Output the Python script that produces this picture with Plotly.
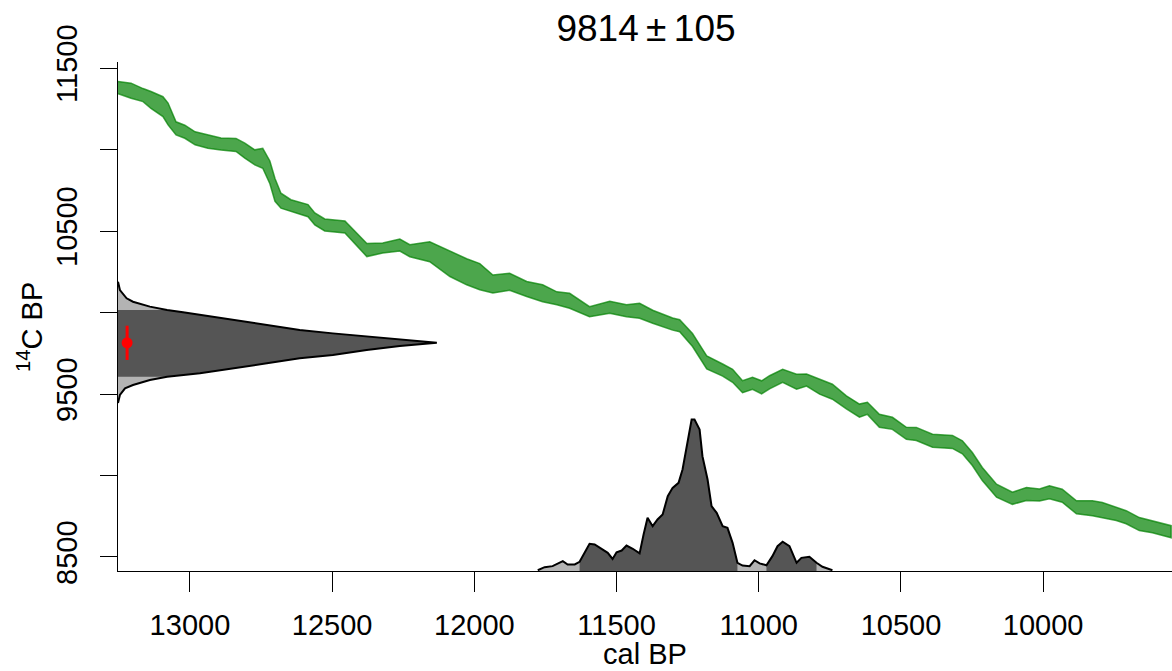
import plotly.graph_objects as go

# ---------------- data ----------------
title_mean = 9814
title_error = 105

# calibration curve: cal BP, 14C BP (centre), half-width of band (14C yr)
curve_cal = [13253, 13207, 13165, 13137, 13095, 13077, 13049, 13018, 12982, 12937,
             12891, 12838, 12807, 12772, 12744, 12719, 12701, 12680, 12645, 12585,
             12561, 12526, 12455, 12378, 12322, 12262, 12227, 12157, 12086, 12027,
             11981, 11935, 11876, 11816, 11760, 11710, 11665, 11595, 11524, 11465,
             11419, 11373, 11303, 11278, 11233, 11183, 11127, 11092, 11057, 11022,
             10990, 10962, 10916, 10867, 10832, 10786, 10741, 10692, 10646, 10618,
             10576, 10530, 10481, 10446, 10389, 10319, 10284, 10249, 10214, 10164,
             10108, 10059, 10013, 9978, 9933, 9883, 9827, 9792, 9743, 9708,
             9662, 9616, 9550]
curve_c14 = [11380, 11361, 11334, 11304, 11263, 11218, 11130, 11109, 11069, 11048,
             11034, 11028, 10993, 10952, 10946, 10860, 10752, 10686, 10655, 10625,
             10574, 10537, 10525, 10383, 10396, 10414, 10379, 10373, 10298, 10250,
             10220, 10175, 10189, 10144, 10118, 10087, 10072, 10005, 10032, 10011,
             10011, 9974, 9929, 9919, 9831, 9694, 9647, 9612, 9545, 9566,
             9541, 9572, 9612, 9575, 9586, 9545, 9514, 9449, 9398, 9412,
             9336, 9320, 9259, 9255, 9213, 9206, 9173, 9101, 9009, 8907,
             8860, 8886, 8880, 8897, 8876, 8805, 8799, 8788, 8764, 8744,
             8702, 8686, 8655]
curve_err = [37, 46, 40, 52, 61, 67, 40, 40, 40, 40,
             37, 40, 46, 46, 61, 70, 70, 46, 37, 37,
             37, 37, 37, 40, 31, 37, 37, 61, 77, 80,
             80, 55, 52, 46, 52, 40, 46, 31, 37, 37,
             46, 40, 37, 37, 40, 40, 37, 40, 37, 37,
             40, 40, 40, 46, 37, 46, 46, 40, 40, 37,
             40, 37, 37, 40, 40, 40, 40, 40, 40, 40,
             37, 40, 37, 40, 40, 40, 46, 46, 40, 40,
             40, 37, 37]

# measured date distribution (14C BP, relative density)
date_c14 = [10189, 10138, 10087, 10066, 10036, 10015, 10001, 9985, 9954, 9923,
            9893, 9872, 9852, 9836, 9815, 9794, 9770, 9739, 9719, 9688,
            9658, 9627, 9606, 9586, 9555, 9535, 9494, 9445]
date_dens = [0.0, 0.006, 0.027, 0.047, 0.10, 0.154, 0.204, 0.257, 0.36, 0.467,
             0.57, 0.674, 0.78, 0.884, 1.0, 0.884, 0.78, 0.674, 0.57, 0.467,
             0.36, 0.257, 0.154, 0.10, 0.047, 0.022, 0.006, 0.0]
date_range = [9606, 10015]

# calibrated distribution (cal BP, relative probability)
cal_bp = [11777, 11753, 11725, 11700, 11689, 11672, 11647, 11630, 11612, 11595,
          11577, 11552, 11531, 11514, 11500, 11482, 11465, 11443, 11419, 11405,
          11391, 11373, 11356, 11338, 11320, 11303, 11282, 11268, 11254, 11236,
          11226, 11208, 11198, 11180, 11166, 11148, 11127, 11110, 11092, 11075,
          11057, 11032, 11015, 10997, 10973, 10952, 10934, 10916, 10892, 10867,
          10850, 10822, 10797, 10776, 10741]
cal_prob = [0.005, 0.025, 0.032, 0.058, 0.065, 0.043, 0.043, 0.061, 0.12, 0.18,
            0.175, 0.142, 0.12, 0.08, 0.124, 0.135, 0.168, 0.147, 0.116, 0.241,
            0.351, 0.296, 0.34, 0.373, 0.494, 0.549, 0.582, 0.67, 0.824, 1.0,
            1.0, 0.934, 0.758, 0.604, 0.428, 0.384, 0.296, 0.285, 0.186, 0.054,
            0.036, 0.032, 0.071, 0.05, 0.038, 0.098, 0.164, 0.193, 0.164, 0.054,
            0.087, 0.094, 0.054, 0.028, 0.005]
hpd_ranges = [[11075, 11630], [10797, 10973]]

x_ticks = [13000, 12500, 12000, 11500, 11000, 10500, 10000]
x_ticktext = ["13000", "12500", "12000", "11500", "11000", "10500", "10000"]
y_label_ticks = [8500, 9500, 10500, 11500]
y_ticktext = ["8500", "9500", "10500", "11500"]
y_all_ticks = [8500, 9000, 9500, 10000, 10500, 11000, 11500]

# ---------------- styling / scale constants ----------------
X_RANGE = [13253, 9547]
Y_RANGE = [8414, 11537]
DATE_SCALE = 1121    # cal-yr width of the date density peak
CAL_SCALE = 929      # 14C-yr height of the calibrated peak
DARK = "#555555"
LIGHT = "#b3b3b3"
FONT = "Liberation Sans, Arial, sans-serif"
FS = 29
L, R, T, B = 118, 0, 62, 100
W, H = 1172 - L - R, 671 - T - B

fig = go.Figure()

# calibration curve band
up = [c + e for c, e in zip(curve_c14, curve_err)]
lo = [c - e for c, e in zip(curve_c14, curve_err)]
fig.add_trace(go.Scatter(
    x=curve_cal + curve_cal[::-1], y=up + lo[::-1], mode="lines",
    fill="toself", fillcolor="rgba(0,128,0,0.7)",
    line=dict(color="rgba(0,128,0,0.7)", width=1.5), hoverinfo="skip"))

x0 = X_RANGE[0]
# date distribution (full, light)
dx = [x0 - d * DATE_SCALE for d in date_dens]
fig.add_trace(go.Scatter(x=[x0] + dx + [x0], y=[date_c14[0]] + date_c14 + [date_c14[-1]],
                         mode="lines", fill="toself", fillcolor=LIGHT,
                         line=dict(width=0), hoverinfo="skip"))
# dark part inside range
sel = [(c, x) for c, x in zip(date_c14, dx) if date_range[0] <= c <= date_range[1]]
fig.add_trace(go.Scatter(x=[x0] + [s[1] for s in sel] + [x0],
                         y=[sel[0][0]] + [s[0] for s in sel] + [sel[-1][0]],
                         mode="lines", fill="toself", fillcolor=DARK,
                         line=dict(width=0), hoverinfo="skip"))
fig.add_trace(go.Scatter(x=dx, y=date_c14, mode="lines",
                         line=dict(color="black", width=2), hoverinfo="skip"))

# calibrated distribution
y0 = Y_RANGE[0]
cy = [y0 + p * CAL_SCALE for p in cal_prob]
fig.add_trace(go.Scatter(x=[cal_bp[0]] + cal_bp + [cal_bp[-1]], y=[y0] + cy + [y0],
                         mode="lines", fill="toself", fillcolor=LIGHT,
                         line=dict(width=0), hoverinfo="skip"))
for lo_r, hi_r in hpd_ranges:
    s = [(c, v) for c, v in zip(cal_bp, cy) if lo_r <= c <= hi_r]
    fig.add_trace(go.Scatter(x=[s[0][0]] + [q[0] for q in s] + [s[-1][0]],
                             y=[y0] + [q[1] for q in s] + [y0],
                             mode="lines", fill="toself", fillcolor=DARK,
                             line=dict(width=0), hoverinfo="skip"))
fig.add_trace(go.Scatter(x=cal_bp, y=cy, mode="lines",
                         line=dict(color="black", width=2), hoverinfo="skip"))

# the date itself (red dot with 1-sigma bar)
fig.add_trace(go.Scatter(x=[13221], y=[title_mean], mode="markers",
                         marker=dict(color="red", size=11),
                         error_y=dict(type="constant", value=title_error, width=0,
                                      thickness=3, color="red"),
                         hoverinfo="skip"))

fig.update_layout(
    width=1172, height=671, showlegend=False,
    margin=dict(l=L, r=R, t=T, b=B, autoexpand=False),
    paper_bgcolor="white", plot_bgcolor="white",
    font=dict(family=FONT, color="black"),
    title=dict(text="9814\u2009\u00b1\u2009105", x=646 / 1172, xanchor="center",
               y=1 - 28 / 671, yanchor="middle", yref="container",
               font=dict(size=37, family=FONT, color="black")),
    xaxis=dict(range=X_RANGE, tickvals=x_ticks, ticktext=x_ticktext, ticks="outside",
               ticklen=20, tickcolor="black", tickwidth=1, showline=True,
               linecolor="black", linewidth=1, showgrid=False, zeroline=False,
               automargin=False, tickfont=dict(size=FS, family=FONT),
               ticklabelstandoff=8),
    yaxis=dict(range=Y_RANGE, tickvals=y_label_ticks, ticktext=y_ticktext,
               ticks="outside", ticklen=17, tickcolor="black", tickwidth=1,
               showline=True, linecolor="black", linewidth=1, showgrid=False,
               zeroline=False, automargin=False, tickangle=-90,
               tickfont=dict(size=FS, family=FONT), ticklabelstandoff=11,
               minor=dict(tickvals=y_all_ticks, ticks="outside", ticklen=17,
                          tickcolor="black", tickwidth=1, showgrid=False)),
    annotations=[
        dict(text="cal BP", x=(645 - L) / W, xref="paper", y=(T + H - 654) / H,
             yref="paper", xanchor="center", yanchor="middle", showarrow=False,
             font=dict(size=FS, family=FONT)),
        dict(text="<sup>14</sup>C BP", x=(30 - L) / W, xref="paper",
             y=(T + H - 327) / H, yref="paper", xanchor="center", yanchor="middle",
             textangle=-90, showarrow=False, font=dict(size=FS, family=FONT)),
    ],
)

fig.write_html(
    "out.html",
    config={"displayModeBar": False},
    post_script="document.body.style.margin='0';document.body.style.overflow='hidden';",
)
